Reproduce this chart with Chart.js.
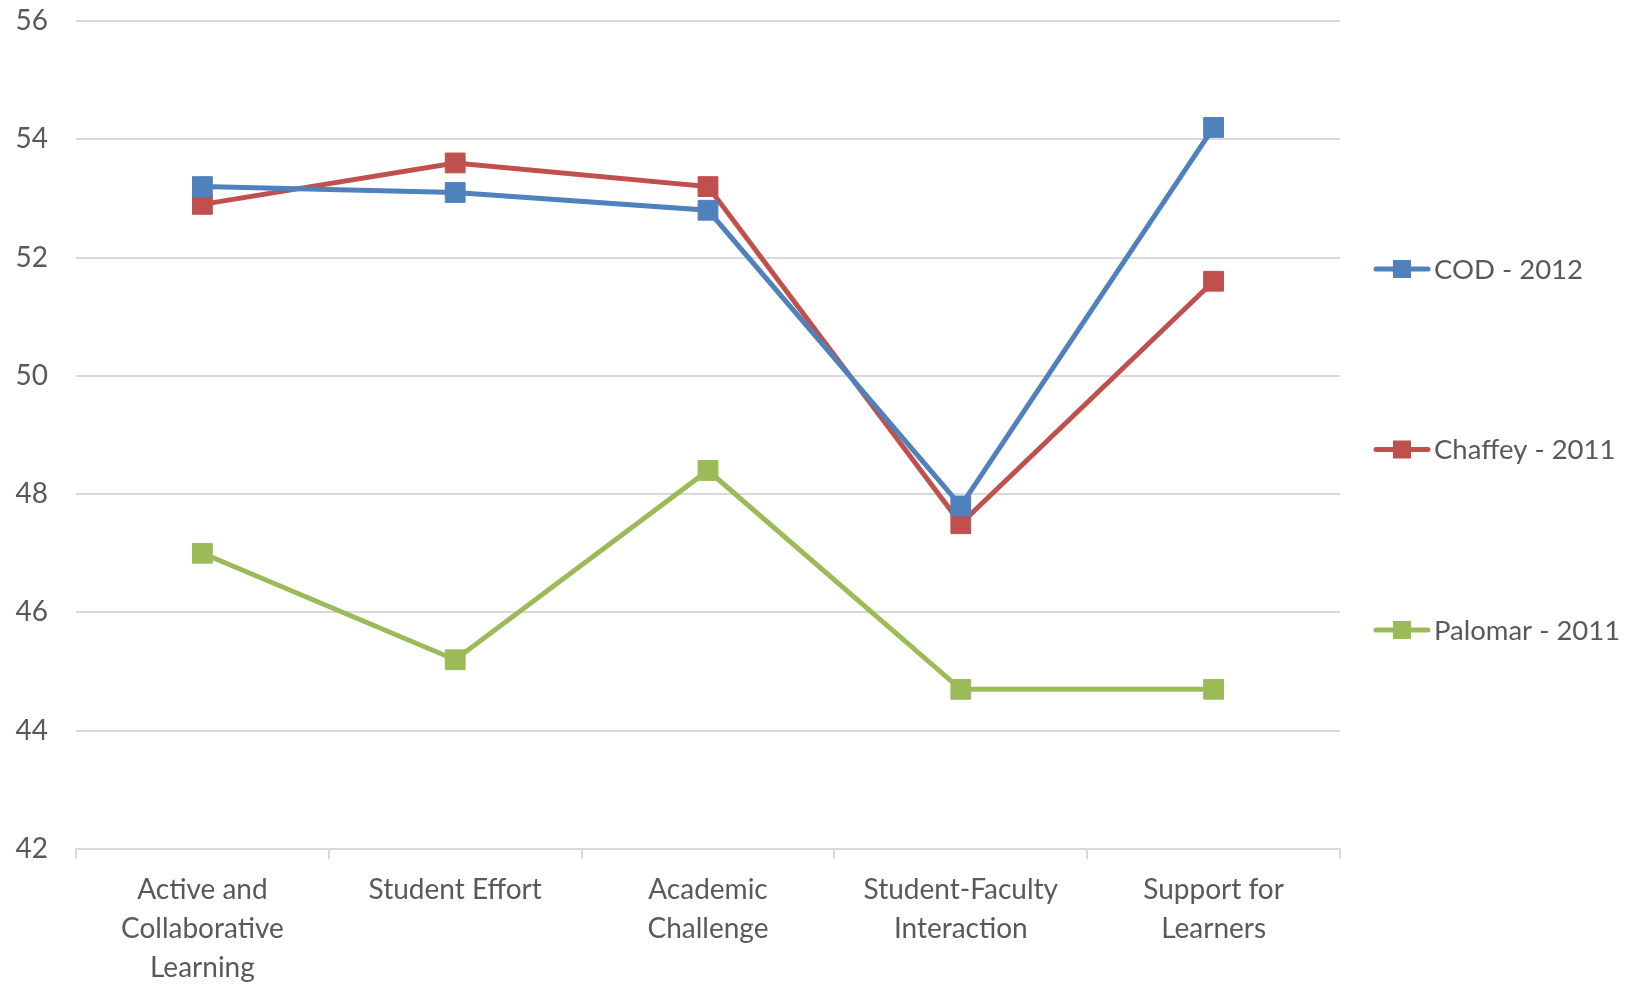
<!DOCTYPE html>
<html>
<head>
<meta charset="utf-8">
<script src="https://cdn.jsdelivr.net/npm/chart.js@4.4.0/dist/chart.umd.min.js"></script>
<style>
    html, body { margin: 0; padding: 0; background: #ffffff; }
    #wrap { width: 1639px; height: 985px; position: relative; }
</style>
</head>
<body>
<div id="wrap"><canvas id="chart"></canvas></div>
<script>
// Benchmark categories (wrapped like the original)
const categories = [
    ['Active and', 'Collaborative', 'Learning'],
    ['Student Effort'],
    ['Academic', 'Challenge'],
    ['Student-Faculty', 'Interaction'],
    ['Support for', 'Learners']
];

const seriesNames = ['COD - 2012', 'Chaffey - 2011', 'Palomar - 2011'];
const codValues = [53.2, 53.1, 52.8, 47.8, 54.2];
const chaffeyValues = [52.9, 53.6, 53.2, 47.5, 51.6];
const palomarValues = [47.0, 45.2, 48.4, 44.7, 44.7];
const seriesColors = ['#4F81BD', '#C0504D', '#9BBB59'];

const yTicks = [42, 44, 46, 48, 50, 52, 54, 56];

const FONT = 'Lato, "Open Sans", sans-serif';
const TEXT = '#595959';
const GRID = '#d9d9d9';

// Legend drawn by hand so the items can sit far apart, as in the original
const sideLegend = {
    id: 'sideLegend',
    afterDraw(chart) {
        const ctx = chart.ctx;
        const x0 = 1376, y0 = 269, gap = 180.5;
        ctx.save();
        chart.data.datasets.forEach((ds, i) => {
            const y = y0 + i * gap;
            ctx.strokeStyle = ds.borderColor;
            ctx.lineWidth = 5;
            ctx.lineCap = 'round';
            ctx.beginPath();
            ctx.moveTo(x0, y);
            ctx.lineTo(x0 + 52, y);
            ctx.stroke();
            ctx.fillStyle = ds.borderColor;
            ctx.fillRect(x0 + 17, y - 9, 18, 18);
            ctx.fillStyle = TEXT;
            ctx.font = '27.5px ' + FONT;
            ctx.textBaseline = 'middle';
            ctx.textAlign = 'left';
            ctx.fillText(ds.label, x0 + 58, y + 1);
        });
        ctx.restore();
    }
};

function makeSeries(label, data, color) {
    return {
        label: label,
        data: data,
        borderColor: color,
        backgroundColor: color,
        borderWidth: 5,
        pointStyle: 'rect',
        pointRadius: 14,
        pointHoverRadius: 14,
        pointBorderWidth: 1,
        tension: 0,
        fill: false
    };
}

document.addEventListener('DOMContentLoaded', () => {
    const ctx = document.getElementById('chart').getContext('2d');

    new Chart(ctx, {
        type: 'line',
        data: {
            labels: categories,
            datasets: [
                makeSeries(seriesNames[0], codValues, seriesColors[0]),
                makeSeries(seriesNames[1], chaffeyValues, seriesColors[1]),
                makeSeries(seriesNames[2], palomarValues, seriesColors[2])
            ]
        },
        options: {
            responsive: true,
            maintainAspectRatio: false,
            animation: false,
            layout: {
                padding: { top: 21, right: 299, left: 0, bottom: 0 }
            },
            plugins: {
                legend: { display: false },
                tooltip: { enabled: false }
            },
            scales: {
                x: {
                    offset: true,
                    afterFit: (scale) => { scale.height = 136; },
                    grid: {
                        offset: true,
                        drawOnChartArea: false,
                        drawTicks: true,
                        tickLength: 10,
                        color: GRID,
                        lineWidth: 2
                    },
                    border: { color: GRID, width: 2 },
                    ticks: {
                        color: TEXT,
                        font: { family: FONT, size: 28, lineHeight: 1.38 },
                        maxRotation: 0,
                        autoSkip: false,
                        padding: 12
                    }
                },
                y: {
                    min: 42,
                    max: 56,
                    afterFit: (scale) => {
                        scale.width = 76;
                        scale.paddingTop = 0;
                        scale.paddingBottom = 0;
                    },
                    afterBuildTicks: (scale) => {
                        scale.ticks = yTicks.map(v => ({ value: v }));
                    },
                    grid: {
                        color: GRID,
                        lineWidth: 2,
                        drawTicks: false
                    },
                    border: { display: false },
                    ticks: {
                        color: TEXT,
                        font: { family: FONT, size: 28 },
                        padding: 28
                    }
                }
            }
        },
        plugins: [sideLegend]
    });
});
</script>
</body>
</html>
